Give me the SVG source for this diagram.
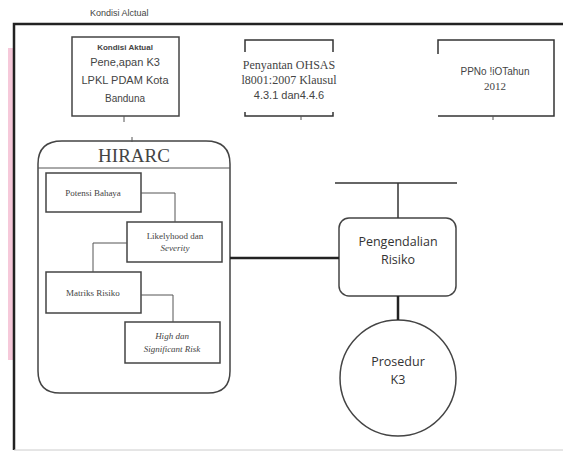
<svg xmlns="http://www.w3.org/2000/svg" width="563" height="452" viewBox="0 0 563 452">
<style>
.frame{fill:none;stroke:#222;stroke-width:2.5}
.box{fill:#fff;stroke:#444;stroke-width:1.5}
.thin{fill:none;stroke:#555;stroke-width:1}
.line{fill:none;stroke:#333;stroke-width:1.5}
.thick{fill:none;stroke:#222;stroke-width:2.5}
.sans{font-family:"Liberation Sans",Arial,sans-serif;fill:#444}
.serif{font-family:"Liberation Serif","Times New Roman",serif;fill:#444}
.cal{font-family:"Open Sans","Liberation Sans",sans-serif;fill:#333}
</style>
<rect x="0" y="0" width="563" height="452" fill="#fff"/>
<rect x="8" y="48" width="5" height="312" fill="#f6c9da"/>
<text class="sans" x="90" y="16" font-size="9">Kondisi Alctual</text>
<g id="frame">
<path class="frame" d="M14,450 V24 H563"/>
<line x1="14" y1="450" x2="563" y2="450" stroke="#ccc" stroke-width="1"/>
</g>
<g id="kondisi">
<rect class="box" x="72" y="37" width="107" height="79"/>
<text class="sans" x="125" y="50" font-size="8" font-weight="bold" text-anchor="middle" fill="#666">Kondisi Aktual</text>
<text class="sans" x="125" y="66" font-size="11" text-anchor="middle">Pene,apan K3</text>
<text class="sans" x="125" y="84" font-size="11" text-anchor="middle">LPKL PDAM Kota</text>
<text class="sans" x="125" y="102" font-size="10" text-anchor="middle">Banduna</text>
</g>
<g id="ohsas">
<path class="line" d="M245,52 V40 H333 V52"/>
<path class="line" d="M245,112 V116 H333 V112"/>
<text class="serif" x="289" y="69" font-size="12" text-anchor="middle">Penyantan OHSAS</text>
<text class="serif" x="289" y="84" font-size="12" text-anchor="middle">l8001:2007 Klausul</text>
<text class="sans" x="289" y="99" font-size="11" text-anchor="middle">4.3.1 dan4.4.6</text>
</g>
<g id="pp">
<path class="line" d="M438,54 V40 H554 V116 H438"/>
<text class="sans" x="495" y="75" font-size="10" text-anchor="middle">PPNo !iOTahun</text>
<text class="serif" x="495" y="90" font-size="11" text-anchor="middle">2012</text>
</g>
<g id="hirarc">
<path class="box" d="M38,164 Q38,141 62,141 H206 Q230,141 230,164 V371 Q230,393 208,393 H60 Q38,393 38,371 Z"/>
<line class="thin" x1="38" y1="168" x2="230" y2="168"/>
<text class="serif" x="134" y="162" font-size="19" text-anchor="middle" fill="#333">HIRARC</text>
</g>
<g id="potensi">
<rect class="box" x="46" y="173" width="95" height="39" stroke-width="1.2"/>
<text class="serif" x="93" y="196" font-size="9" text-anchor="middle">Potensi Bahaya</text>
</g>
<g id="likelyhood">
<rect class="box" x="127" y="222" width="95" height="40" stroke-width="1.2"/>
<text class="serif" x="175" y="239" font-size="9" text-anchor="middle">Likelyhood dan</text>
<text class="serif" x="175" y="251" font-size="9" text-anchor="middle" font-style="italic">Severity</text>
</g>
<g id="matriks">
<rect class="box" x="46" y="272" width="95" height="41" stroke-width="1.2"/>
<text class="serif" x="93" y="296" font-size="9" text-anchor="middle">Matriks Risiko</text>
</g>
<g id="high">
<rect class="box" x="125" y="322" width="95" height="41" stroke-width="1.2"/>
<text class="serif" x="172" y="339" font-size="9" text-anchor="middle" font-style="italic">High dan</text>
<text class="serif" x="172" y="352" font-size="9" text-anchor="middle" font-style="italic">Significant Risk</text>
</g>
<g id="pengendalian">
<rect class="box" x="339" y="218" width="117" height="78" rx="10" stroke-width="1.8"/>
<text class="cal" x="398" y="246" font-size="12.5" text-anchor="middle">Pengendalian</text>
<text class="cal" x="398" y="264" font-size="12.5" text-anchor="middle">Risiko</text>
</g>
<g id="prosedur">
<circle class="box" cx="398" cy="378" r="58" stroke-width="1.8"/>
<text class="cal" x="398" y="366" font-size="12.5" text-anchor="middle">Prosedur</text>
<text class="cal" x="398" y="384" font-size="12.5" text-anchor="middle">K3</text>
</g>
<g id="connectors">
<line class="thin" x1="124" y1="116" x2="124" y2="122"/>
<line class="thin" x1="132" y1="137" x2="132" y2="142"/>
<line class="thin" x1="301" y1="116" x2="301" y2="120"/>
<line class="thin" x1="493" y1="116" x2="493" y2="120"/>
<path class="thin" d="M141,193 H175 V222"/>
<path class="thin" d="M127,243 H93 V272"/>
<path class="thin" d="M141,295 H173 V322"/>
<line class="thick" x1="230" y1="258" x2="339" y2="258"/>
<line class="line" x1="335" y1="183" x2="457" y2="183" stroke="#777"/>
<line class="line" x1="398" y1="183" x2="398" y2="218"/>
<line class="thick" x1="398" y1="296" x2="398" y2="320"/>
</g>
</svg>
